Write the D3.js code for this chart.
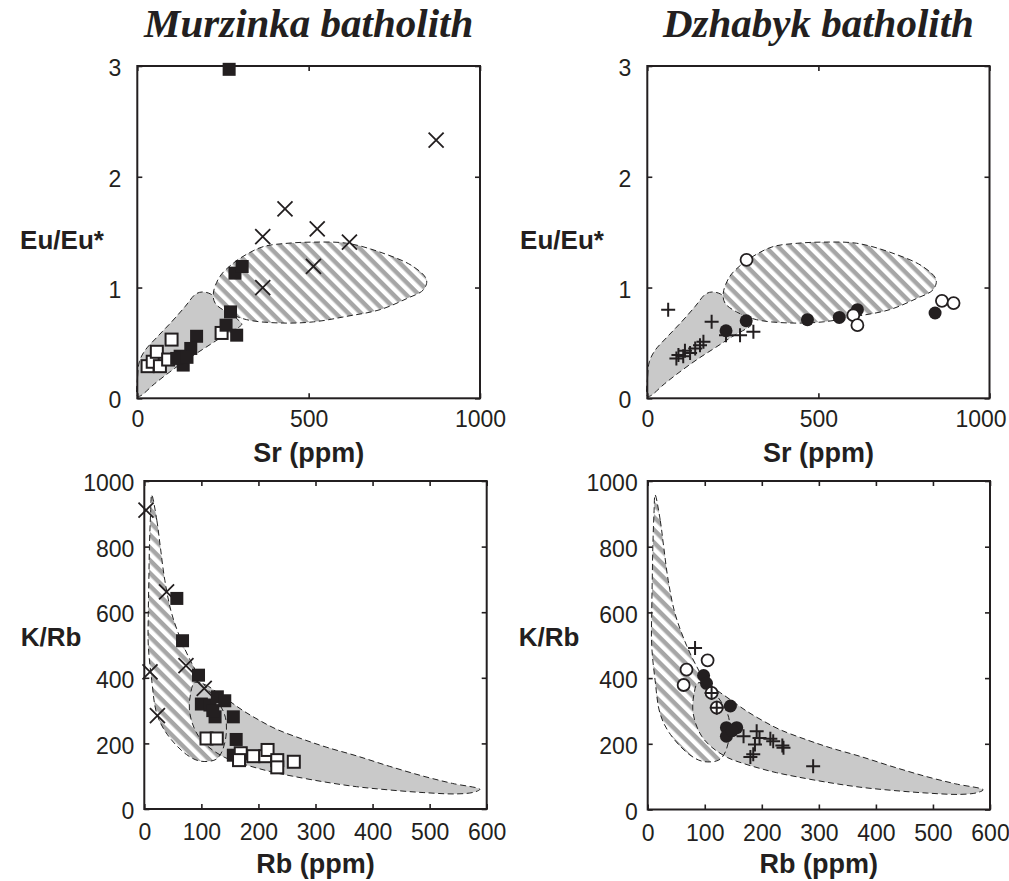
<!DOCTYPE html>
<html>
<head>
<meta charset="utf-8">
<script src="https://cdn.jsdelivr.net/npm/d3@7"></script>
<style>
  body { margin: 0; background: #fff; }
  svg { display: block; }
</style>
</head>
<body>
<script>
// ---------- data ----------
var srTicks = [0, 500, 1000];
var euTicks = [0, 1, 2, 3];
var rbTicks = [0, 100, 200, 300, 400, 500, 600];
var krbTicks = [0, 200, 400, 600, 800, 1000];

var titles = ["Murzinka batholith", "Dzhabyk batholith"];

// reference fields, Eu/Eu* vs Sr
var euGrayField = [[0, 0.02], [1, 0.2], [6, 0.33], [22, 0.43], [60, 0.56], [100, 0.69], [140, 0.83],
    [170, 0.94], [190, 0.96], [215, 0.94], [235, 0.88], [260, 0.80], [290, 0.72], [305, 0.67],
    [300, 0.65], [250, 0.56], [200, 0.46], [150, 0.36], [100, 0.25], [50, 0.13], [8, 0.02]];
var euHatchField = [[222, 0.95], [241, 1.10], [280, 1.22], [319, 1.30], [368, 1.37], [440, 1.40],
    [514, 1.41], [611, 1.40], [708, 1.32], [805, 1.19], [844, 1.07], [835, 0.98], [786, 0.90],
    [708, 0.80], [611, 0.74], [514, 0.69], [416, 0.68], [319, 0.71], [261, 0.78], [227, 0.86]];

// reference fields, K/Rb vs Rb
var krbHatchField = [[13, 958], [22, 880], [28, 800], [36, 697], [48, 596], [68, 500], [86, 435],
    [103, 383], [128, 330], [142, 280], [143, 220], [134, 168], [124, 150], [98, 146], [74, 166],
    [40, 228], [22, 290], [13, 393], [7, 500], [7, 596], [8, 700], [9, 800], [11, 900]];
var krbGrayField = [[88, 385], [108, 378], [127, 356], [150, 328], [173, 300], [200, 272], [232, 243],
    [279, 212], [320, 188], [372, 162], [430, 130], [489, 100], [540, 78], [588, 60], [577, 51],
    [547, 46], [490, 50], [430, 58], [372, 68], [314, 83], [260, 100], [226, 112], [197, 125],
    [168, 140], [140, 158], [112, 190], [95, 222], [84, 262], [79, 305], [81, 350]];

// Murzinka, Eu/Eu* vs Sr
var murzEuOpenSq = [[30, 0.29], [45, 0.33], [57, 0.42], [66, 0.29], [90, 0.35], [100, 0.53], [246, 0.59]];
var murzEuFillSq = [[268, 2.97], [285, 1.13], [306, 1.19], [272, 0.78], [259, 0.66], [290, 0.57],
    [173, 0.56], [156, 0.45], [134, 0.30], [125, 0.38], [115, 0.36], [145, 0.37]];
var murzEuCross = [[366, 1.46], [431, 1.71], [525, 1.53], [619, 1.41], [514, 1.19], [366, 1.00], [872, 2.33]];

// Dzhabyk, Eu/Eu* vs Sr
var dzhEuPlus = [[61, 0.80], [188, 0.69], [91, 0.39], [110, 0.43], [125, 0.41], [154, 0.48], [164, 0.51],
    [230, 0.57], [271, 0.57], [310, 0.60], [85, 0.36], [105, 0.38], [140, 0.45]];
var dzhEuFillDot = [[230, 0.61], [289, 0.70], [468, 0.71], [561, 0.73], [614, 0.80], [841, 0.77]];
var dzhEuOpenDot = [[290, 1.25], [602, 0.75], [614, 0.66], [861, 0.88], [895, 0.86]];

// Murzinka, K/Rb vs Rb
var murzKrbFillSq = [[57, 642], [67, 513], [95, 408], [100, 320], [115, 317], [128, 342], [141, 330],
    [124, 281], [156, 281], [161, 212], [156, 164], [120, 300]];
var murzKrbOpenSq = [[109, 215], [127, 215], [169, 170], [166, 149], [191, 161], [212, 161], [216, 180],
    [233, 149], [233, 127], [262, 144]];
var murzKrbCross = [[3, 911], [39, 662], [73, 437], [105, 368], [10, 418], [23, 285]];

// Dzhabyk, K/Rb vs Rb
var dzhKrbFillDot = [[98, 408], [103, 384], [145, 315], [138, 249], [156, 249], [138, 223], [148, 240]];
var dzhKrbOpenDot = [[68, 426], [63, 379], [105, 454], [112, 355], [121, 310]];
var dzhKrbPlus = [[83, 492], [191, 238], [196, 218], [188, 198], [185, 168], [180, 160], [220, 208],
    [238, 188], [290, 132], [168, 223], [112, 355], [121, 310], [215, 215], [236, 195]];

// ---------- drawing ----------
var ink = "#231f20";

var svg = d3.select("body").append("svg")
    .attr("width", 1009)
    .attr("height", 881);

var defs = svg.append("defs");
var pat = defs.append("pattern")
    .attr("id", "hatch")
    .attr("patternUnits", "userSpaceOnUse")
    .attr("width", 9)
    .attr("height", 9)
    .attr("patternTransform", "rotate(45)");
pat.append("rect").attr("width", 9).attr("height", 9).attr("fill", "#fff");
pat.append("rect").attr("width", 9).attr("height", 4.5).attr("fill", "#a6a6a6");

function drawMarkers(g, x, y, pts, type) {
    var sel = g.append("g").selectAll("g").data(pts).enter().append("g")
        .attr("transform", function (d) { return "translate(" + x(d[0]) + "," + y(d[1]) + ")"; });
    if (type == "sqFill") {
        sel.append("rect").attr("x", -6.5).attr("y", -6.5).attr("width", 13).attr("height", 13)
            .attr("fill", ink);
    } else if (type == "sqOpen") {
        sel.append("rect").attr("x", -6).attr("y", -6).attr("width", 12).attr("height", 12)
            .attr("fill", "#fff").attr("stroke", ink).attr("stroke-width", 2);
    } else if (type == "cross") {
        sel.append("path").attr("d", "M-7.5,-7.5L7.5,7.5M-7.5,7.5L7.5,-7.5")
            .attr("stroke", ink).attr("stroke-width", 1.8).attr("fill", "none");
    } else if (type == "plus") {
        sel.append("path").attr("d", "M-7,0H7M0,-7V7")
            .attr("stroke", ink).attr("stroke-width", 2).attr("fill", "none");
    } else if (type == "dotFill") {
        sel.append("circle").attr("r", 6.5).attr("fill", ink);
    } else if (type == "dotOpen") {
        sel.append("circle").attr("r", 6).attr("fill", "#fff")
            .attr("stroke", ink).attr("stroke-width", 1.8);
    }
}

function drawPanel(cfg) {
    var x = d3.scaleLinear().domain(cfg.xDom).range([cfg.x0, cfg.x1]);
    var y = d3.scaleLinear().domain(cfg.yDom).range([cfg.y1, cfg.y0]);
    var g = svg.append("g");

    var line = d3.line()
        .x(function (d) { return x(d[0]); })
        .y(function (d) { return y(d[1]); })
        .curve(d3.curveCatmullRomClosed.alpha(0.5));

    var outline = function (pts) {
        g.append("path").attr("d", line(pts))
            .attr("fill", "none").attr("stroke", "#222")
            .attr("stroke-width", 1).attr("stroke-dasharray", "6,3.5");
    };

    cfg.fields.forEach(function (f) {
        g.append("path").attr("d", line(f.pts))
            .attr("fill", f.hatch ? "url(#hatch)" : "#c9c9c9").attr("stroke", "none");
        if (f.outlineNow) outline(f.pts);
    });
    cfg.fields.forEach(function (f) {
        if (!f.outlineNow) outline(f.pts);
    });

    // frame
    g.append("rect")
        .attr("x", cfg.x0).attr("y", cfg.y0)
        .attr("width", cfg.x1 - cfg.x0).attr("height", cfg.y1 - cfg.y0)
        .attr("fill", "none").attr("stroke", ink).attr("stroke-width", 2);

    // inward ticks on all four sides
    var fmt = d3.format("d");
    var inner = function (ax) { return ax.tickSizeInner(-5).tickSizeOuter(0); };
    var ab = g.append("g").attr("transform", "translate(0," + cfg.y1 + ")")
        .call(inner(d3.axisBottom(x).tickValues(cfg.xTicks).tickFormat(fmt)).tickPadding(cfg.xPad));
    var at = g.append("g").attr("transform", "translate(0," + cfg.y0 + ")")
        .call(inner(d3.axisTop(x).tickValues(cfg.xTicks)).tickFormat(""));
    var al = g.append("g").attr("transform", "translate(" + cfg.x0 + ",0)")
        .call(inner(d3.axisLeft(y).tickValues(cfg.yTicks).tickFormat(fmt)).tickPadding(cfg.yPad));
    var ar = g.append("g").attr("transform", "translate(" + cfg.x1 + ",0)")
        .call(inner(d3.axisRight(y).tickValues(cfg.yTicks)).tickFormat(""));
    [ab, at, al, ar].forEach(function (a) {
        a.select(".domain").remove();
        a.selectAll("line").attr("stroke", ink).attr("stroke-width", 1.6);
        a.selectAll("text").attr("fill", ink)
            .style("font-family", "'Liberation Sans', Arial, sans-serif")
            .style("font-size", "23px");
    });
    al.selectAll("text").attr("dy", "0.42em");
    if (cfg.lastDx) {
        ab.selectAll(".tick text").filter(function (d, i, n) { return i == n.length - 1; })
            .attr("dx", cfg.lastDx);
    }

    // axis titles
    g.append("text")
        .attr("x", (cfg.x0 + cfg.x1) / 2).attr("y", cfg.xTitleY)
        .attr("text-anchor", "middle").attr("fill", ink)
        .style("font-family", "'Liberation Sans', Arial, sans-serif")
        .style("font-weight", "bold").style("font-size", "27px")
        .text(cfg.xLabel);
    g.append("text")
        .attr("x", cfg.yTitleX).attr("y", cfg.yTitleY)
        .attr("text-anchor", "middle").attr("fill", ink)
        .style("font-family", "'Liberation Sans', Arial, sans-serif")
        .style("font-weight", "bold").style("font-size", "26px")
        .text(cfg.yLabel);

    if (cfg.title) {
        g.append("text")
            .attr("x", (cfg.x0 + cfg.x1) / 2).attr("y", 37)
            .attr("text-anchor", "middle").attr("fill", ink)
            .style("font-family", "'Liberation Serif', 'Times New Roman', serif")
            .style("font-weight", "bold").style("font-style", "italic").style("font-size", "41px")
            .text(cfg.title);
    }

    cfg.marks.forEach(function (m) { drawMarkers(g, x, y, m.pts, m.type); });
}

// top row: Eu/Eu* vs Sr (gray field under the hatched one)
var topFields = [{ pts: euGrayField, hatch: false, outlineNow: true },
                 { pts: euHatchField, hatch: true, outlineNow: true }];
// bottom row: K/Rb vs Rb (gray field over the hatched one)
var botFields = [{ pts: krbHatchField, hatch: true, outlineNow: false },
                 { pts: krbGrayField, hatch: false, outlineNow: false }];

drawPanel({
    x0: 137.3, x1: 480, y0: 66, y1: 398.3, xDom: [0, 1000], yDom: [0, 3],
    xTicks: srTicks, yTicks: euTicks, xPad: 12, yPad: 16,
    xLabel: "Sr (ppm)", yLabel: "Eu/Eu*", xTitleY: 462, yTitleX: 62, yTitleY: 249,
    title: titles[0], fields: topFields,
    marks: [{ pts: murzEuOpenSq, type: "sqOpen" }, { pts: murzEuFillSq, type: "sqFill" },
            { pts: murzEuCross, type: "cross" }]
});
drawPanel({
    x0: 647.3, x1: 989.5, y0: 66, y1: 398.3, xDom: [0, 1000], yDom: [0, 3],
    xTicks: srTicks, yTicks: euTicks, xPad: 12, yPad: 16, lastDx: -9,
    xLabel: "Sr (ppm)", yLabel: "Eu/Eu*", xTitleY: 462, yTitleX: 562, yTitleY: 249,
    title: titles[1], fields: topFields,
    marks: [{ pts: dzhEuPlus, type: "plus" }, { pts: dzhEuFillDot, type: "dotFill" },
            { pts: dzhEuOpenDot, type: "dotOpen" }]
});
drawPanel({
    x0: 144.3, x1: 486.7, y0: 481, y1: 809, xDom: [0, 600], yDom: [0, 1000],
    xTicks: rbTicks, yTicks: krbTicks, xPad: 15, yPad: 10,
    xLabel: "Rb (ppm)", yLabel: "K/Rb", xTitleY: 873, yTitleX: 51, yTitleY: 646,
    fields: botFields,
    marks: [{ pts: murzKrbCross, type: "cross" }, { pts: murzKrbFillSq, type: "sqFill" },
            { pts: murzKrbOpenSq, type: "sqOpen" }]
});
drawPanel({
    x0: 647.7, x1: 990, y0: 481, y1: 809.5, xDom: [0, 600], yDom: [0, 1000],
    xTicks: rbTicks, yTicks: krbTicks, xPad: 15, yPad: 10,
    xLabel: "Rb (ppm)", yLabel: "K/Rb", xTitleY: 873, yTitleX: 549, yTitleY: 646,
    fields: botFields,
    marks: [{ pts: dzhKrbFillDot, type: "dotFill" }, { pts: dzhKrbOpenDot, type: "dotOpen" },
            { pts: dzhKrbPlus, type: "plus" }]
});
</script>
</body>
</html>
